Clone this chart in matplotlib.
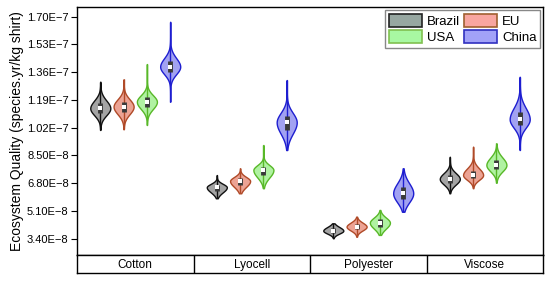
import matplotlib
matplotlib.use("Agg")
import matplotlib.pyplot as plt
import numpy as np
from matplotlib.patches import Patch

plt.rcParams['font.family'] = ['Liberation Sans', 'DejaVu Sans']

fibres = ["Cotton", "Lyocell", "Polyester", "Viscose"]
regions = ["Brazil", "EU", "USA", "China"]

# summary values: [min, q1, median, q3, max] per fibre, per region
brazil = [[1.006e-7, 1.110e-7, 1.139e-7, 1.171e-7, 1.302e-7],
          [5.875e-8, 6.34e-8, 6.55e-8, 6.69e-8, 7.30e-8],
          [3.425e-8, 3.77e-8, 3.89e-8, 4.04e-8, 4.34e-8],
          [6.18e-8, 6.83e-8, 7.06e-8, 7.30e-8, 8.42e-8]]
eu = [[1.010e-7, 1.118e-7, 1.149e-7, 1.179e-7, 1.3165e-7],
      [6.18e-8, 6.69e-8, 6.935e-8, 7.10e-8, 7.71e-8],
      [3.52e-8, 3.98e-8, 4.135e-8, 4.30e-8, 4.75e-8],
      [6.49e-8, 7.10e-8, 7.30e-8, 7.57e-8, 9.04e-8]]
usa = [[1.0365e-7, 1.149e-7, 1.179e-7, 1.206e-7, 1.410e-7],
       [6.49e-8, 7.30e-8, 7.61e-8, 7.81e-8, 9.14e-8],
       [3.63e-8, 4.135e-8, 4.38e-8, 4.59e-8, 5.16e-8],
       [6.83e-8, 7.65e-8, 7.915e-8, 8.22e-8, 9.24e-8]]
china = [[1.179e-7, 1.363e-7, 1.394e-7, 1.429e-7, 1.669e-7],
         [8.83e-8, 1.006e-7, 1.053e-7, 1.092e-7, 1.312e-7],
         [5.05e-8, 5.81e-8, 6.18e-8, 6.59e-8, 7.71e-8],
         [8.83e-8, 1.0365e-7, 1.0715e-7, 1.118e-7, 1.332e-7]]

ytick_vals = [3.4e-8, 5.1e-8, 6.8e-8, 8.5e-8, 1.02e-7, 1.19e-7, 1.36e-7, 1.53e-7, 1.70e-7]
ytick_labels = ["3.40E\u22128", "5.10E\u22128", "6.80E\u22128", "8.50E\u22128",
                "1.02E\u22127", "1.19E\u22127", "1.36E\u22127", "1.53E\u22127", "1.70E\u22127"]

series = [brazil, eu, usa, china]
fills = ["#a4a4a4", "#eca394", "#b0f2a2", "#a2a2f2"]
edges = ["#111111", "#b04a28", "#58b828", "#1e1ed0"]
leg_fills = ["#97a7a1", "#f8a6a0", "#a8f8a2", "#a2a2f8"]
leg_edges = ["#222222", "#a06030", "#80c050", "#3030c0"]

fig = plt.figure(figsize=(5.5, 2.81), dpi=100)
W, H = 550.0, 281.0
ax = fig.add_axes([77 / W, 1 - 255 / H, (543 - 77) / W, (255 - 7.3) / H])
axs = fig.add_axes([77 / W, 1 - 273.3 / H, (543 - 77) / W, (273.3 - 255) / H])

offsets = [-0.3, -0.1, 0.1, 0.3]
vwidth = 0.172

for r, data in enumerate(series):
    stats = []
    pos = []
    for f, (mn, q1, md, q3, mx) in enumerate(data):
        coords = np.linspace(mn, mx, 200)
        s_lo = (md - q1) / 0.6745
        s_hi = (q3 - md) / 0.6745
        s = np.where(coords < md, s_lo, s_hi)
        vals = np.exp(-0.5 * ((coords - md) / s) ** 2)
        stats.append(dict(coords=coords, vals=vals, mean=md, median=md, min=mn, max=mx))
        pos.append(f + 0.5 + offsets[r])
    parts = ax.violin(stats, positions=pos, widths=vwidth, showmeans=False,
                      showextrema=False, showmedians=False)
    for b in parts['bodies']:
        b.set_facecolor(fills[r])
        b.set_edgecolor(edges[r])
        b.set_linewidth(1.0)
        b.set_alpha(None)
        b.set_zorder(2)
    arr = np.array(data)
    ax.vlines(pos, arr[:, 0], arr[:, 4], color=edges[r], lw=1.0, zorder=3)
    ax.vlines(pos, arr[:, 1], arr[:, 3], color="#3a3a3a", lw=3.5, zorder=4)
    ax.scatter(pos, arr[:, 2], s=8, marker="s", color="white", zorder=5, linewidths=0)

ax.set_xlim(0, 4)
ax.set_ylim(2.40e-8, 1.7576e-7)
ax.set_yticks(ytick_vals)
ax.set_yticklabels(ytick_labels, fontsize=8)
ax.tick_params(axis='y', direction='out', length=4, width=0.8, pad=2)
ax.set_xticks([])
ax.set_ylabel("Ecosystem Quality (species.yr/kg shirt)", fontsize=10, labelpad=2)
for sp in ax.spines.values():
    sp.set_linewidth(1.0)

order = [0, 2, 1, 3]
handles = [Patch(facecolor=leg_fills[i], edgecolor=leg_edges[i], linewidth=1.2) for i in order]
labels = [regions[i] for i in order]
ax.legend(handles, labels, ncol=2, loc="upper right", fontsize=9.5, frameon=True,
          fancybox=False, edgecolor="#888888", framealpha=1, borderaxespad=0.2,
          handlelength=2.5, handleheight=1.1, handletextpad=0.4, columnspacing=0.25,
          labelspacing=0.2, borderpad=0.3)

axs.set_xlim(0, 4)
axs.set_ylim(0, 1)
axs.set_xticks([])
axs.set_yticks([])
for sp in axs.spines.values():
    sp.set_linewidth(1.0)
for i in range(1, 4):
    axs.axvline(i, color="black", lw=1.0)
for i, name in enumerate(fibres):
    axs.text(i + 0.5, 0.45, name, ha="center", va="center", fontsize=8.5)

fig.savefig("out.png", dpi=100)
